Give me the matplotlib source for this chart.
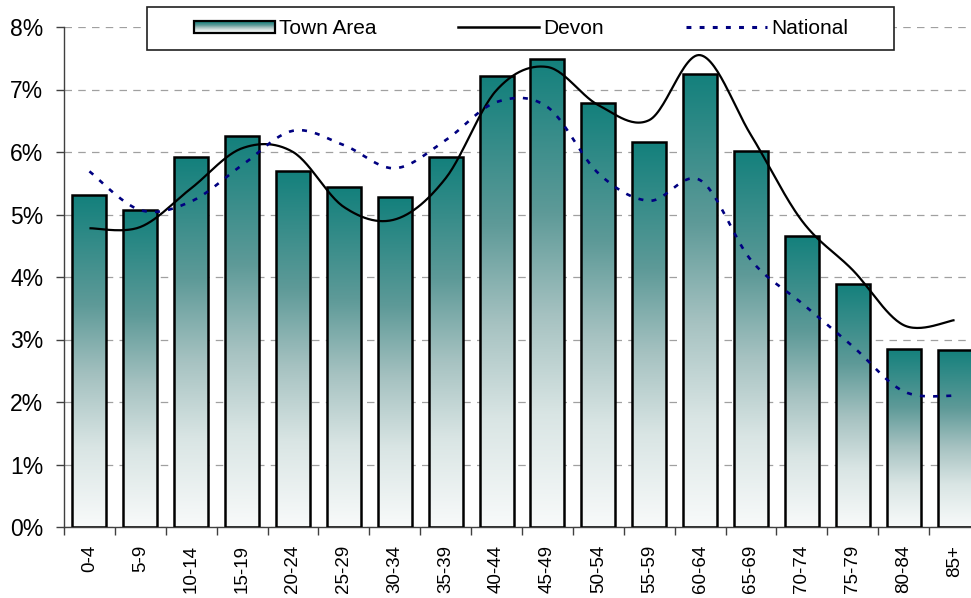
import numpy as np
import matplotlib
matplotlib.use("Agg")
import matplotlib.pyplot as plt
from matplotlib.patches import Rectangle
from matplotlib.legend_handler import HandlerBase
from matplotlib.colors import LinearSegmentedColormap
from matplotlib.ticker import PercentFormatter, FixedLocator

plt.rcParams['font.family'] = ['Liberation Sans', 'DejaVu Sans']

age_groups = ["0-4", "5-9", "10-14", "15-19", "20-24", "25-29", "30-34", "35-39",
              "40-44", "45-49", "50-54", "55-59", "60-64", "65-69", "70-74",
              "75-79", "80-84", "85+"]
town_area = [5.31, 5.07, 5.92, 6.26, 5.70, 5.44, 5.28, 5.92, 7.22, 7.49,
             6.79, 6.16, 7.25, 6.02, 4.66, 3.89, 2.85, 2.84]
devon = [4.78, 4.80, 5.42, 6.06, 6.00, 5.12, 4.92, 5.58, 6.99, 7.36,
         6.75, 6.51, 7.55, 6.27, 4.90, 4.11, 3.23, 3.31]
national = [5.69, 5.07, 5.21, 5.79, 6.34, 6.11, 5.74, 6.19, 6.80, 6.72,
            5.66, 5.22, 5.55, 4.27, 3.58, 2.89, 2.17, 2.10]

# top of bar -> bottom of bar
bar_cmap = LinearSegmentedColormap.from_list(
    "bar", [(0.0, "#13807c"), (0.33, "#5e9a98"), (0.55, "#a6c2c1"),
            (0.76, "#d9e5e4"), (1.0, "#f8fafa")])


def smooth(xs, ys, n=30):
    # bezier smoothing like a spreadsheet "smoothed line"
    p = np.column_stack([xs, ys]).astype(float)
    p = np.vstack([p[0], p, p[-1]])
    out = []
    t = np.linspace(0, 1, n)[:, None]
    for i in range(1, len(p) - 2):
        p0, p1, p2, p3 = p[i - 1], p[i], p[i + 1], p[i + 2]
        b1 = p1 + (p2 - p0) / 6
        b2 = p2 - (p3 - p1) / 6
        seg = ((1 - t) ** 3) * p1 + 3 * ((1 - t) ** 2) * t * b1 + 3 * (1 - t) * t ** 2 * b2 + t ** 3 * p2
        out.append(seg)
    out = np.vstack(out)
    return out[:, 0], out[:, 1]


grad_img = np.linspace(0, 1, 256)[:, None] * np.ones((1, 2))


class GradientHandler(HandlerBase):
    def create_artists(self, legend, orig_handle, xdescent, ydescent,
                       width, height, fontsize, trans):
        arts = []
        n = 12
        h = height * 0.8
        y0 = -ydescent + (height - h) / 2
        for k in range(n):
            c = bar_cmap(k / (n - 1))
            r = Rectangle((-xdescent, y0 + h * (1 - (k + 1) / n)), width, h / n,
                          facecolor=c, edgecolor='none', transform=trans)
            arts.append(r)
        arts.append(Rectangle((-xdescent, y0), width, h, facecolor='none',
                              edgecolor='black', lw=1.6, transform=trans))
        return arts


fig = plt.figure(figsize=(9.71, 5.98), dpi=100)
ax = fig.add_axes([64 / 971, 71 / 598, 916 / 971, 500 / 598])

x = np.arange(len(age_groups))
bw = 0.67
bars = ax.bar(x, town_area, width=bw, facecolor='none', edgecolor='black',
              linewidth=1.8, zorder=3)
for b, v in zip(bars, town_area):
    im = ax.imshow(grad_img, extent=[b.get_x(), b.get_x() + bw, 0, v], cmap=bar_cmap,
                   vmin=0, vmax=1, origin='upper',
                   aspect='auto', zorder=2, interpolation='bilinear')
    im.set_clip_path(b)

dx, dy = smooth(x, devon)
ax.plot(dx, dy, color='black', lw=1.6, zorder=4, solid_capstyle='butt')
nx, ny = smooth(x, national)
ax.plot(nx, ny, color='#000080', lw=1.9, zorder=4, dashes=(1.9, 3.1))

ax.set_xlim(-0.5, len(age_groups) - 0.5)
ax.set_ylim(0, 8)
ax.set_xticks(x)
ax.set_xticklabels(age_groups, rotation=90, fontsize=13.5)
ax.xaxis.set_minor_locator(FixedLocator(np.arange(-0.5, len(age_groups), 1)))
ax.tick_params(axis='x', which='major', length=0, pad=13)
ax.tick_params(axis='x', which='minor', length=6, color='#404040', width=1)
ax.set_yticks(range(0, 9))
ax.yaxis.set_major_formatter(PercentFormatter(decimals=0))
ax.tick_params(axis='y', length=6, color='#404040', width=1, labelsize=16.5, pad=9)
ax.grid(axis='y', color='#a0a0a0', linestyle=(0, (6, 5)), lw=0.9, zorder=1)
ax.set_axisbelow(True)
for s in ['top', 'right']:
    ax.spines[s].set_visible(False)
for s in ['left', 'bottom']:
    ax.spines[s].set_color('#404040')
    ax.spines[s].set_linewidth(1)

frame = Rectangle((147 / 971, (598 - 50) / 598), (894 - 147) / 971, 43 / 598,
                  transform=fig.transFigure, facecolor='white', edgecolor='#202020',
                  lw=1.2, zorder=10, clip_on=False)
ax.add_patch(frame)

h_bar = Rectangle((0, 0), 1, 1)
h_dev, = ax.plot([], [], color='black', lw=1.8)
h_nat, = ax.plot([], [], color='#000080', lw=2.2, dashes=(1.6, 2.7))
leg = ax.legend([h_bar, h_dev, h_nat], ["Town Area", "Devon", "National"],
                handler_map={Rectangle: GradientHandler()},
                loc='center', bbox_to_anchor=(521 / 971, (598 - 28.5) / 598),
                bbox_transform=fig.transFigure, ncol=3, frameon=False,
                fontsize=15, handlelength=3.9, handletextpad=0.2,
                columnspacing=3.9)
leg.set_zorder(11)

fig.savefig("out.png", dpi=100)
